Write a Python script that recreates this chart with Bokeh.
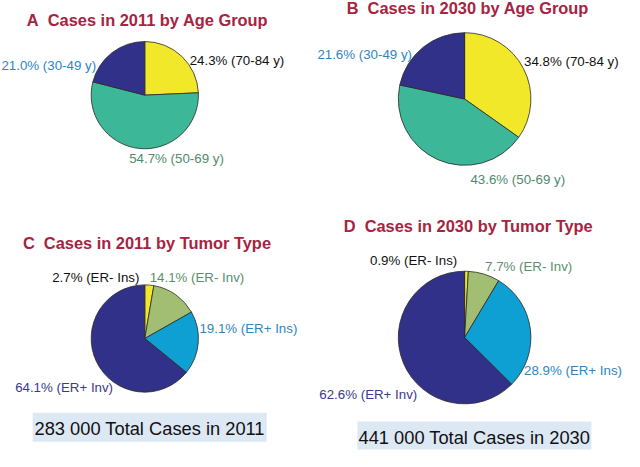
import numpy as np
from bokeh.plotting import figure
from bokeh.models import Range1d, ColumnDataSource
from bokeh.core.properties import value
from bokeh.embed import file_html
from bokeh.resources import INLINE

# ---------------- data ----------------
age_groups = ["70-84 y", "50-69 y", "30-49 y"]
age_2011 = [24.3, 54.7, 21.0]
age_2030 = [34.8, 43.6, 21.6]

tumor_types = ["ER- Ins", "ER- Inv", "ER+ Ins", "ER+ Inv"]
tumor_2011 = [2.7, 14.1, 19.1, 64.1]
tumor_2030 = [0.9, 7.7, 28.9, 62.6]

years = [2011, 2030]
total_cases = [283000, 441000]

panel_letters = ["A", "B", "C", "D"]
panel_titles = ["Cases in 2011 by Age Group", "Cases in 2030 by Age Group",
                "Cases in 2011 by Tumor Type", "Cases in 2030 by Tumor Type"]

# ---------------- styles ----------------
FONT = value("Liberation Sans")
W, H = 624, 451          # on-screen size
XR, YR = 640, 467        # layout coordinate space
age_colors = ["#F2E82A", "#3CB898", "#313189"]
age_label_colors = ["#111111", "#4F8B6C", "#2E86C1"]
tumor_colors = ["#F2E82A", "#A2BE72", "#0E9FD3", "#313189"]
tumor_label_colors = ["#111111", "#5A8F6E", "#2E86C1", "#3A3A8E"]
TITLE_COLOR = "#A6243F"

p = figure(width=W, height=H, x_range=Range1d(0, XR), y_range=Range1d(0, YR),
           output_backend="svg", toolbar_location=None, min_border=0,
           x_axis_type=None, y_axis_type=None)
p.grid.visible = False
p.outline_line_color = None
p.background_fill_color = "white"
p.border_fill_color = "white"


def draw_pie(cx, cy, r, values, colors, names, label_colors, label_pos):
    vals = np.array(values, dtype=float)
    fr = vals / vals.sum()
    cum = np.concatenate([[0.0], np.cumsum(fr)])
    start = np.pi / 2 - cum[:-1] * 2 * np.pi
    end = np.pi / 2 - cum[1:] * 2 * np.pi
    src = ColumnDataSource(dict(start=start, end=end, color=colors))
    p.wedge(x=cx, y=cy, radius=r, start_angle="start", end_angle="end",
            direction="clock", fill_color="color", line_color="#2a2a2a",
            line_width=0.8, source=src)
    labels = [f"{v:.1f}% ({n})" for v, n in zip(values, names)]
    lsrc = ColumnDataSource(dict(x=[q[0] for q in label_pos], y=[q[1] for q in label_pos],
                                 text=labels, color=label_colors))
    p.text(x="x", y="y", text="text", text_color="color", source=lsrc,
           text_font=FONT, text_font_size="13.3px", text_align="left",
           text_baseline="middle")


# Pie A
draw_pie(148, 369, 55, age_2011, age_colors, age_groups, age_label_colors,
         [(194, 405), (132, 303), (1, 400)])
# Pie B
draw_pie(476, 365, 68, age_2030, age_colors, age_groups, age_label_colors,
         [(537, 404), (482, 282), (325, 411)])
# Pie C
draw_pie(148, 117, 55, tumor_2011, tumor_colors, tumor_types, tumor_label_colors,
         [(53, 180), (153, 180), (204, 127), (15, 66)])
# Pie D
draw_pie(476, 118, 68, tumor_2030, tumor_colors, tumor_types, tumor_label_colors,
         [(379, 198), (497, 192), (537, 84), (327, 59)])

# Titles
titles = [f"{l}\u00a0 {t}" for l, t in zip(panel_letters, panel_titles)]
p.text(x=[27, 355, 23, 352], y=[447, 459, 216, 233], text=titles,
       text_color=TITLE_COLOR, text_font=FONT, text_font_size="16.4px",
       text_font_style="bold", text_align="left", text_baseline="middle")

# Total boxes
box_src = ColumnDataSource(dict(left=[33, 366], right=[273, 606], bottom=[10, 2], top=[40, 31]))
p.quad(left="left", right="right", bottom="bottom", top="top", source=box_src,
       fill_color="#DDE8F5", line_color=None)
tot_text = [f"{t:,}".replace(",", " ") + f" Total Cases in {y}" for t, y in zip(total_cases, years)]
p.text(x=[153, 486], y=[24, 14], text=tot_text, text_color="#111111",
       text_font=FONT, text_font_size="18.3px", text_align="center",
       text_baseline="middle")

open("out.html", "w").write(file_html(p, INLINE))
